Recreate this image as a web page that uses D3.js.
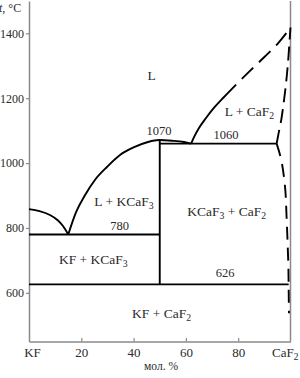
<!DOCTYPE html>
<html>
<head>
<meta charset="utf-8">
<script src="https://cdn.jsdelivr.net/npm/d3@7"></script>
<style>
  html, body { margin: 0; padding: 0; background: #fff; }
  svg { display: block; }
  text { font-family: "Liberation Serif", "Times New Roman", serif; fill: #2a2a2a; }
</style>
</head>
<body>
<svg id="chart" width="300" height="378"></svg>
<script>
// ---- Data (mol. % CaF2, temperature °C) ----
const xTicks = [20, 40, 60, 80];
const yTicks = [600, 800, 1000, 1200, 1400];

// KF liquidus down to the eutectic
const liquidusKF = [[0, 858], [4, 852], [8, 840], [11, 824], [13, 806], [15, 780]];
// KCaF3 liquidus (congruent maximum 1070)
const liquidusKCaF3 = [[15, 780], [18, 849], [21.4, 901], [25.2, 948], [29.8, 988], [34.8, 1025],
  [40.2, 1049], [45.5, 1065], [49.7, 1071], [54.7, 1069], [59.3, 1065], [62, 1060]];
// CaF2 liquidus: solid part, dashed part
const liquidusCaF2Solid = [[62, 1060], [63.1, 1080], [65, 1108], [67.7, 1139], [70.7, 1170], [74.5, 1203], [79.2, 1242]];
const liquidusCaF2Dashed = [[79.2, 1242], [84.6, 1285], [90, 1327], [95.3, 1370], [100, 1418]];
// CaF2 solid-solution boundaries (dashed)
const solidusUpper = [[94.7, 1060], [95.4, 1090], [96.5, 1135], [97.3, 1180], [98, 1225], [98.6, 1270], [99.1, 1315], [99.5, 1360], [99.8, 1395], [100, 1418]];
const solvusLower = [[94.7, 1060], [96, 1025], [97.9, 927], [98.5, 834], [98.9, 752], [99.2, 676], [99.3, 614], [99.4, 537]];
// Isotherms and the KCaF3 compound line
const isotherms = [
  { t: 780, from: 0, to: 50 },
  { t: 1060, from: 50, to: 94.7 },
  { t: 626, from: 0, to: 99.3 }
];
const compound = { x: 50, from: 626, to: 1070 };

// Region and temperature labels [text, x (mol.%), t (°C, baseline)]
const regionLabels = [
  ["L", 46.9, 1256],
  ["L + CaF_2", 84.3, 1145],
  ["L + KCaF_3", 36.3, 867],
  ["KCaF_3 + CaF_2", 75.6, 836],
  ["KF + KCaF_3", 24.6, 688],
  ["KF + CaF_2", 50.7, 522]
];
const tempLabels = [
  ["1070", 49.7, 1086],
  ["1060", 75.3, 1074],
  ["780", 34.7, 793],
  ["626", 75, 648]
];

// ---- Chart ----
const svg = d3.select("#chart");
const x = d3.scaleLinear().domain([0, 100]).range([29, 290.5]);
const y = d3.scaleLinear().domain([450, 1500]).range([341.5, 0.9]);

const axisColor = "#8a8a8a";

// frame: right border
svg.append("line")
  .attr("x1", x(100)).attr("x2", x(100))
  .attr("y1", y(1500)).attr("y2", y(450))
  .attr("stroke", axisColor).attr("stroke-width", 1.5);

// Left axis
const gy = svg.append("g").attr("transform", `translate(${x(0)},0)`)
  .call(d3.axisLeft(y).tickValues(yTicks).tickFormat(d3.format("d"))
    .tickSize(3).tickSizeOuter(0).tickPadding(2));
gy.select(".domain").attr("stroke", axisColor).attr("stroke-width", 1.5);
gy.selectAll(".tick line").attr("stroke", axisColor).attr("stroke-width", 1.2);
gy.selectAll(".tick text").attr("font-size", 12).attr("font-family", "Liberation Serif, serif").attr("fill", "#2a2a2a");

// Bottom axis
const gx = svg.append("g").attr("transform", `translate(0,${y(450)})`)
  .call(d3.axisBottom(x).tickValues(xTicks).tickFormat(d3.format("d"))
    .tickSize(-3.5).tickSizeOuter(0).tickPadding(6));
gx.select(".domain").attr("stroke", axisColor).attr("stroke-width", 1.5);
gx.selectAll(".tick line").attr("stroke", axisColor).attr("stroke-width", 1.2);
gx.selectAll(".tick text").attr("font-size", 13).attr("font-family", "Liberation Serif, serif").attr("fill", "#2a2a2a");

// helper to write text with subscripts ("_d")
function richText(sel, str, size) {
  const parts = str.split(/_(\d)/);
  parts.forEach((p, i) => {
    if (p === "") return;
    if (i % 2 === 1) {
      sel.append("tspan").attr("font-size", size * 0.72).attr("dy", 3).text(p);
    } else {
      const t = sel.append("tspan").text(p);
      if (i > 0) t.attr("dy", -3);
    }
  });
}

// end labels of x axis
svg.append("text").attr("x", x(0) + 3.5).attr("y", 357).attr("text-anchor", "middle")
  .attr("font-size", 13).text("KF");
const caf = svg.append("text").attr("x", 272).attr("y", 357).attr("font-size", 13);
richText(caf, "CaF_2", 13);
svg.append("text").attr("x", 161).attr("y", 370).attr("text-anchor", "middle")
  .attr("font-size", 11.5).text("мол. %");

// y axis title
const yt = svg.append("text").attr("x", -1).attr("y", 11.5).attr("font-size", 12);
yt.append("tspan").attr("font-style", "italic").text("t");
yt.append("tspan").text(", °C");

// ---- Phase lines ----
const lineX = d3.line().x(d => x(d[0])).y(d => y(d[1])).curve(d3.curveMonotoneX);
const lineY = d3.line().x(d => x(d[0])).y(d => y(d[1])).curve(d3.curveMonotoneY);
const lw = 1.9;

[liquidusKF, liquidusKCaF3, liquidusCaF2Solid].forEach(data => {
  svg.append("path").datum(data).attr("d", lineX)
    .attr("fill", "none").attr("stroke", "#000").attr("stroke-width", lw);
});

svg.append("path").datum(liquidusCaF2Dashed).attr("d", lineX)
  .attr("fill", "none").attr("stroke", "#000").attr("stroke-width", lw)
  .attr("stroke-dasharray", "16,8").attr("stroke-dashoffset", 16);

svg.append("path").datum(solidusUpper).attr("d", lineY)
  .attr("fill", "none").attr("stroke", "#000").attr("stroke-width", lw)
  .attr("stroke-dasharray", "14,7");

svg.append("path").datum(solvusLower).attr("d", lineY)
  .attr("fill", "none").attr("stroke", "#000").attr("stroke-width", lw)
  .attr("stroke-dasharray", "13,8");

isotherms.forEach(d => {
  svg.append("line")
    .attr("x1", x(d.from)).attr("x2", x(d.to))
    .attr("y1", y(d.t)).attr("y2", y(d.t))
    .attr("stroke", "#000").attr("stroke-width", lw);
});

svg.append("line")
  .attr("x1", x(compound.x)).attr("x2", x(compound.x))
  .attr("y1", y(compound.from)).attr("y2", y(compound.to))
  .attr("stroke", "#000").attr("stroke-width", lw);

// ---- Labels ----
regionLabels.forEach(([s, cx, ct]) => {
  const t = svg.append("text").attr("x", x(cx)).attr("y", y(ct))
    .attr("text-anchor", "middle").attr("font-size", 13.5);
  richText(t, s, 13.5);
});
tempLabels.forEach(([s, cx, ct]) => {
  svg.append("text").attr("x", x(cx)).attr("y", y(ct))
    .attr("text-anchor", "middle").attr("font-size", 12.5).text(s);
});
</script>
</body>
</html>
